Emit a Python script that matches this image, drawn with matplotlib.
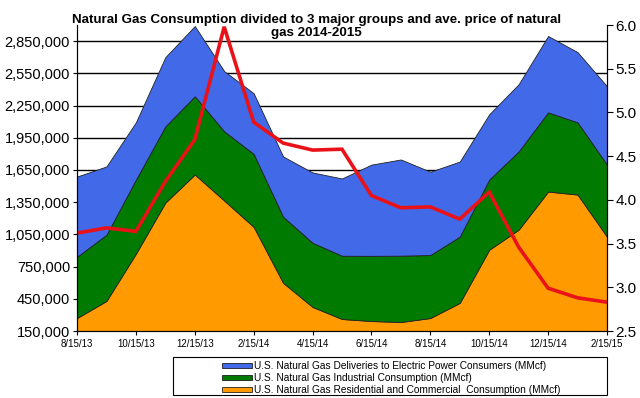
import matplotlib
matplotlib.use("Agg")
import matplotlib.pyplot as plt
from matplotlib.patches import Patch, Rectangle
from matplotlib.ticker import FuncFormatter

plt.rcParams['font.family'] = ['Liberation Sans', 'DejaVu Sans']

# monthly data, 8/2013 .. 2/2015
months = ["8/15/13", "9/15/13", "10/15/13", "11/15/13", "12/15/13", "1/15/14",
          "2/15/14", "3/15/14", "4/15/14", "5/15/14", "6/15/14", "7/15/14",
          "8/15/14", "9/15/14", "10/15/14", "11/15/14", "12/15/14", "1/15/15",
          "2/15/15"]

# MMcf
residential = [271000, 430000, 870000, 1346000, 1608000, 1365000, 1120000, 599000,
               374000, 262000, 243000, 234000, 271000, 412000, 907000, 1094000,
               1449000, 1421000, 1029000]
industrial = [570000, 617000, 690000, 710000, 729000, 645000, 680000, 616000,
              598000, 589000, 607000, 618000, 587000, 617000, 654000, 729000,
              738000, 673000, 672000]
electric = [748000, 636000, 534000, 645000, 654000, 561000, 565000, 561000,
            655000, 720000, 850000, 896000, 776000, 700000, 608000, 626000,
            711000, 654000, 729000]

# $ per Mcf
price = [3.62, 3.68, 3.64, 4.21, 4.69, 5.98, 4.89, 4.65, 4.57, 4.58, 4.05, 3.91,
         3.92, 3.78, 4.09, 3.46, 2.99, 2.88, 2.83]

labels = ["U.S. Natural Gas Deliveries to Electric Power Consumers (MMcf)",
          "U.S. Natural Gas Industrial Consumption (MMcf)",
          "U.S. Natural Gas Residential and Commercial  Consumption (MMcf)"]
colors = ["#4169E8", "#007A00", "#FF9B00"]

x = list(range(len(months)))

fig = plt.figure(figsize=(6.4, 3.98), dpi=100)
ax = fig.add_axes([0.1203, 0.1683, 0.8281, 0.7687])

ax.stackplot(x, residential, industrial, electric,
             colors=[colors[2], colors[1], colors[0]],
             edgecolor="#222222", linewidth=0.6)

ax.set_xlim(0, len(months) - 1)
ax.set_ylim(150000, 3000000)
ax.set_yticks(range(150000, 3000000, 300000))
ax.yaxis.set_major_formatter(FuncFormatter(lambda v, p: f"{int(v):,}"))
ax.set_xticks(x[::2])
ax.set_xticklabels(months[::2], fontsize=7)
ax.tick_params(axis="y", labelsize=10.5, length=3, width=0.8, pad=2)
ax.tick_params(axis="x", length=3, width=0.8, pad=3)
ax.set_axisbelow(True)
ax.grid(axis="y", color="black", linewidth=1.0)
ax.spines["top"].set_visible(False)

ax2 = ax.twinx()
ax2.plot(x, price, color="#EA1219", linewidth=2.6, solid_joinstyle="miter")
ax2.set_ylim(2.5, 6.0)
ax2.set_yticks([2.5, 3.0, 3.5, 4.0, 4.5, 5.0, 5.5, 6.0])
ax2.yaxis.set_major_formatter(FuncFormatter(lambda v, p: f"{v:.1f}"))
ax2.tick_params(axis="y", labelsize=11, length=4, width=0.8, pad=2)
ax2.spines["top"].set_visible(False)

fig.text(0.495, 0.966, "Natural Gas Consumption divided to 3 major groups and ave. price of natural\ngas 2014-2015",
         ha="center", va="top", fontsize=9.6, fontweight="bold", linespacing=1.15)

# legend box (wider than its entries, as in the source chart)
box = Rectangle((173 / 640, 3 / 398), 434 / 640, 38 / 398, transform=fig.transFigure,
                facecolor="white", edgecolor="black", linewidth=0.8)
fig.patches.append(box)

handles = [Patch(facecolor=c, edgecolor="black", linewidth=0.5) for c in colors]
leg = fig.legend(handles, labels, loc="upper left", bbox_to_anchor=(222 / 640, 1 - 361 / 398),
                 fontsize=7.3, frameon=False,
                 handlelength=3.0, handleheight=0.45, handletextpad=0.2,
                 labelspacing=0.2, borderpad=0.0, borderaxespad=0)

fig.savefig("out.png", dpi=100)
